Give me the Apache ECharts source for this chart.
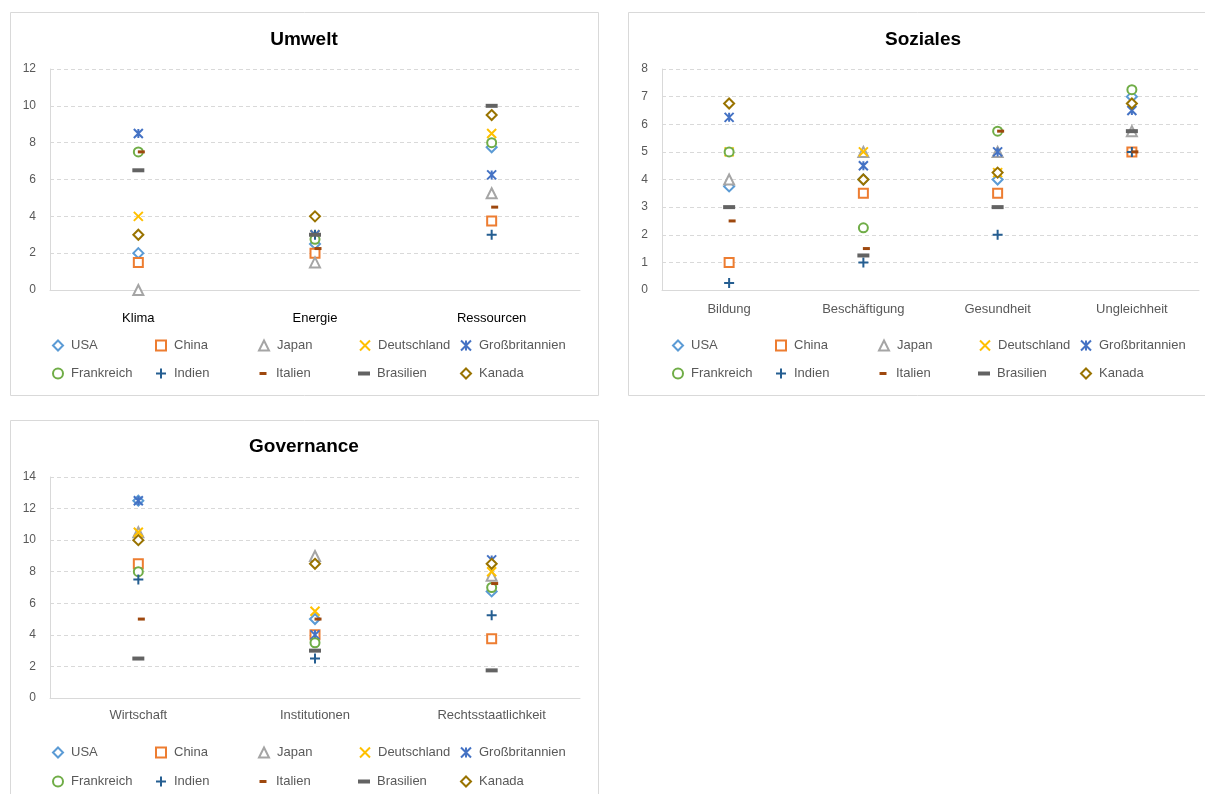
<!DOCTYPE html>
<html><head><meta charset="utf-8">
<script src="https://cdn.jsdelivr.net/npm/echarts@6/dist/echarts.min.js"></script>
<style>html,body{margin:0;padding:0;background:#fff}#c{width:1205px;height:794px}</style>
</head><body><div id="c"></div>
<script>
// ---- data ----
const countries = ['USA','China','Japan','Deutschland','Großbritannien','Frankreich','Indien','Italien','Brasilien','Kanada'];
const colors = ['#5B9BD5','#ED7D31','#A5A5A5','#FFC000','#4472C4','#70AD47','#255E91','#9E480E','#636363','#997300'];

const titles = ['Umwelt','Soziales','Governance'];
const umweltCats = ['Klima','Energie','Ressourcen'];
const sozialesCats = ['Bildung','Beschäftigung','Gesundheit','Ungleichheit'];
const governanceCats = ['Wirtschaft','Institutionen','Rechtsstaatlichkeit'];

// values per category, in country order
const klima        = [2, 1.5, 0, 4, 8.5, 7.5, null, 7.5, 6.5, 3];
const energie      = [2.5, 2, 1.5, 3, 3, 2.75, 3, 2.25, 3, 4];
const ressourcen   = [7.75, 3.75, 5.25, 8.5, 6.25, 8, 3, 4.5, 10, 9.5];

const bildung        = [3.75, 1, 4, 5, 6.25, 5, 0.25, 2.5, 3, 6.75];
const beschaeftigung = [4, 3.5, 5, 5, 4.5, 2.25, 1, 1.5, 1.25, 4];
const gesundheit     = [4, 3.5, 5, 4.25, 5, 5.75, 2, 5.75, 3, 4.25];
const ungleichheit   = [7, 5, 5.75, null, 6.5, 7.25, 5, 5, 5.75, 6.75];

const wirtschaft    = [12.5, 8.5, 10.5, 10.5, 12.5, 8, 7.5, 5, 2.5, 10];
const institutionen = [5, 4, 9, 5.5, 4, 3.5, 2.5, 5, 3, 8.5];
const rechtsstaat   = [6.75, 3.75, 7.75, 8, 8.75, 7, 5.25, 7.25, 1.75, 8.5];

const umweltMax = 12, umweltStep = 2;
const sozialesMax = 8, sozialesStep = 1;
const governanceMax = 14, governanceStep = 2;

// ---- build ----
const FONT = '"Liberation Sans", Arial, sans-serif';
const X = 'path://M0,0L10,10M10,0L0,10';
const STAR = 'path://M0,0L10,10M10,0L0,10M5,0L5,10';
const PLUS = 'path://M5,0L5,10M0,5L10,5';

const sym = [
  {symbol:'diamond', size:10, hollow:true},
  {symbol:'rect', size:9, hollow:true},
  {symbol:'triangle', size:10, hollow:true},
  {symbol:X, size:9, line:true},
  {symbol:STAR, size:9, line:true},
  {symbol:'circle', size:9, hollow:true},
  {symbol:PLUS, size:10, line:true},
  {symbol:'rect', size:[7,3], fill:true, offset:[3,0]},
  {symbol:'rect', size:[12,4], fill:true},
  {symbol:'diamond', size:10, hollow:true}
];

const panels = [
  {cats: umweltCats, vals: [klima, energie, ressourcen], max: umweltMax, step: umweltStep,
   grid: {left:50, top:69, width:530, height:221}, labelColor:'#000', labelMargin:22,
   title:{x:304, y:30}, legend:{dx:0, rows:[345,373]}},
  {cats: sozialesCats, vals: [bildung, beschaeftigung, gesundheit, ungleichheit], max: sozialesMax, step: sozialesStep,
   grid: {left:662, top:69, width:537, height:221}, labelColor:'#595959', labelMargin:13,
   title:{x:923, y:30}, legend:{dx:620, rows:[345,373]}},
  {cats: governanceCats, vals: [wirtschaft, institutionen, rechtsstaat], max: governanceMax, step: governanceStep,
   grid: {left:50, top:477, width:530, height:221}, labelColor:'#595959', labelMargin:11,
   title:{x:304, y:437}, legend:{dx:0, rows:[752,781]}}
];

const colX = [57, 160, 263, 364, 465];

function itemStyleFor(i) {
  const s = sym[i], c = colors[i];
  if (s.hollow) return {color:'#fff', borderColor:c, borderWidth:2, opacity:1};
  if (s.line) return {color:c, borderColor:c, borderWidth:2, opacity:1};
  return {color:c, borderWidth:0, opacity:1};
}

const grid = [], xAxis = [], yAxis = [], series = [], legend = [], title = [];
panels.forEach((p, pi) => {
  grid.push(Object.assign({containLabel:false}, p.grid));
  xAxis.push({
    type:'category', gridIndex:pi, data:p.cats, boundaryGap:true,
    axisLine:{show:true, lineStyle:{color:'#d9d9d9', width:1}},
    axisTick:{show:false},
    axisLabel:{color:p.labelColor, fontSize:13, fontFamily:FONT, margin:p.labelMargin},
    splitLine:{show:false}
  });
  yAxis.push({
    type:'value', gridIndex:pi, min:0, max:p.max, interval:p.step,
    axisLine:{show:true, lineStyle:{color:'#d9d9d9', width:1}},
    axisTick:{show:false},
    axisLabel:{color:'#595959', fontSize:12, fontFamily:FONT, margin:14},
    splitLine:{show:true, lineStyle:{color:'#d9d9d9', type:[4,3], width:1}}
  });
  title.push({
    text: titles[pi], left:p.title.x, top:p.title.y, textAlign:'center', padding:0,
    textStyle:{fontSize:19, fontWeight:'bold', color:'#000', fontFamily:FONT}
  });
  countries.forEach((name, i) => {
    const s = sym[i];
    series.push({
      type:'scatter', name, xAxisIndex:pi, yAxisIndex:pi,
      data: p.cats.map((_, k) => p.vals[k][i]),
      symbol:s.symbol, symbolSize:s.size, symbolOffset:s.offset || [0,0],
      itemStyle:itemStyleFor(i), z:2 + i*0.01,
      emphasis:{disabled:true}, silent:true, animation:false
    });
    const row = i < 5 ? 0 : 1, col = i % 5;
    const w = Array.isArray(s.size) ? s.size[0] : 10;
    const h = Array.isArray(s.size) ? s.size[1] : 10;
    const cx = colX[col] + p.legend.dx;
    const cy = p.legend.rows[row];
    legend.push({
      data:[{name, icon:s.symbol}],
      left: cx - w/2, top: cy - 6, itemWidth:w, itemHeight:h, padding:0,
      selectedMode:false,
      textStyle:{color:'#595959', fontSize:13, fontFamily:FONT, padding:[0,0,0,Math.max(0, 13 - w/2 - 5)]},
      itemStyle: itemStyleFor(i)
    });
  });
});

const chart = echarts.init(document.getElementById('c'), null, {renderer:'canvas'});
chart.setOption({
  backgroundColor:'#fff',
  animation:false,
  title, grid, xAxis, yAxis, series, legend,
  graphic:[
    {type:'rect', shape:{x:10.5, y:12.5, width:588, height:383}, style:{fill:'none', stroke:'#d9d9d9', lineWidth:1}, z:-1},
    {type:'rect', shape:{x:628.5, y:12.5, width:600, height:383}, style:{fill:'none', stroke:'#d9d9d9', lineWidth:1}, z:-1},
    {type:'rect', shape:{x:10.5, y:420.5, width:588, height:400}, style:{fill:'none', stroke:'#d9d9d9', lineWidth:1}, z:-1}
  ]
});
</script>
</body></html>
